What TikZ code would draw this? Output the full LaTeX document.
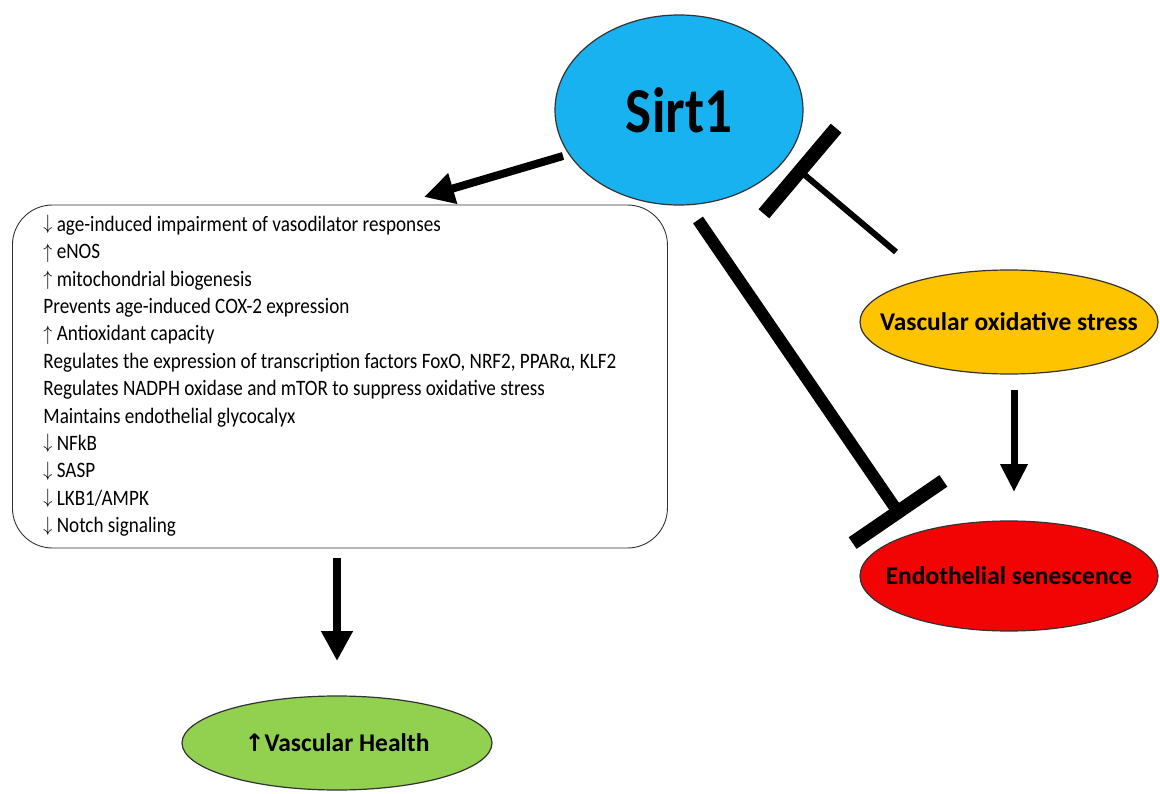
\documentclass[tikz,border=0pt]{standalone}
\usepackage{fontspec}
\setmainfont{Carlito}
\newfontfamily\arr{DejaVu Sans}
\usetikzlibrary{shapes.geometric,arrows.meta,calc}
\definecolor{sirtc}{RGB}{24,178,240}
\definecolor{stressc}{RGB}{255,196,0}
\definecolor{senc}{RGB}{242,4,4}
\definecolor{healthc}{RGB}{146,208,80}
\definecolor{edge}{RGB}{50,50,50}
\tikzset{
  oval/.style={ellipse, draw=edge, line width=1.2pt, inner xsep=-60pt, inner ysep=0pt, font=\bfseries\fontsize{25.5}{25.5}\selectfont},
  bigarrow/.style={line width=8pt, -{Triangle[length=30pt,width=30pt]}},
  midarrow/.style={line width=7pt, -{Triangle[length=28pt,width=26pt]}},
  inhbar/.style={line width=14pt},
}
\newcommand{\ua}{\raisebox{0.5pt}{\fontsize{20}{20}\selectfont$\uparrow$}\hspace{5pt}}
\newcommand{\da}{\raisebox{1.5pt}{\fontsize{20}{20}\selectfont$\downarrow$}\hspace{5pt}}
\begin{document}
\begin{tikzpicture}[x=1pt,y=-1pt]
\useasboundingbox[fill=white] (0,0) rectangle (1160,794);

% nodes
\node[oval, inner xsep=0pt, fill=sirtc, minimum width=248pt, minimum height=190pt,
      font=\bfseries\fontsize{64}{64}\selectfont] (sirt) at (679,110) {\scalebox{0.86}[1]{Sirt1}};
\node[draw=edge, line width=0.9pt, rounded corners=40pt, minimum width=655pt, minimum height=343pt,
      inner xsep=0pt, anchor=west, align=left,
      font=\fontsize{22}{27.4}\selectfont] (box) at (12,376.5) {%
\hspace*{31pt}\makebox[624pt][l]{\scalebox{0.87}[1]{\begin{tabular}{@{}l@{}}
\da age-induced impairment of vasodilator responses\\
\ua eNOS\\
\ua mitochondrial biogenesis\\
Prevents age-induced COX-2 expression\\
\ua Antioxidant capacity\\
Regulates the expression of transcription factors FoxO, NRF2, PPARα, KLF2\\
Regulates NADPH oxidase and mTOR to suppress oxidative stress\\
Maintains endothelial glycocalyx\\
\da NFkB\\
\da SASP\\
\da LKB1/AMPK\\
\da Notch signaling
\end{tabular}}}};
\node[oval, fill=stressc, minimum width=298pt, minimum height=104pt] (stress) at (1009,322) {Vascular oxidative stress};
\node[oval, fill=senc, minimum width=298pt, minimum height=110pt] (sen) at (1009,576) {Endothelial senescence};
\node[oval, fill=healthc, minimum width=310pt, minimum height=94pt] (health) at (337,743) {{\arr\bfseries\fontsize{24}{24}\selectfont ↑}Vascular Health};

% arrow coordinates
\coordinate (a1s) at (563,156);
\coordinate (a1e) at (424,197);
\coordinate (a2s) at (337,558);
\coordinate (a2e) at (337,661);
\coordinate (a3s) at (1014,390);
\coordinate (a3e) at (1014,492);
% inhibition coordinates
\coordinate (i1s) at (896,252);
\coordinate (i1e) at (800,171);
\coordinate (i2s) at (698,220);
\coordinate (i2e) at (898,512);

% activation arrows
\draw[bigarrow] (a1s) -- (a1e);
\draw[bigarrow] (a2s) -- (a2e);
\draw[midarrow] (a3s) -- (a3e);

% inhibition: stress -| Sirt1
\draw[line width=6pt] (i1s) -- (i1e);
\draw[inhbar] ($(i1e)!56pt!90:(i1s)$) -- ($(i1e)!56pt!-90:(i1s)$);
% inhibition: Sirt1 -| senescence
\draw[line width=12pt] (i2s) -- (i2e);
\draw[inhbar] ($(i2e)!55pt!90:(i2s)$) -- ($(i2e)!55pt!-90:(i2s)$);
\end{tikzpicture}
\end{document}
